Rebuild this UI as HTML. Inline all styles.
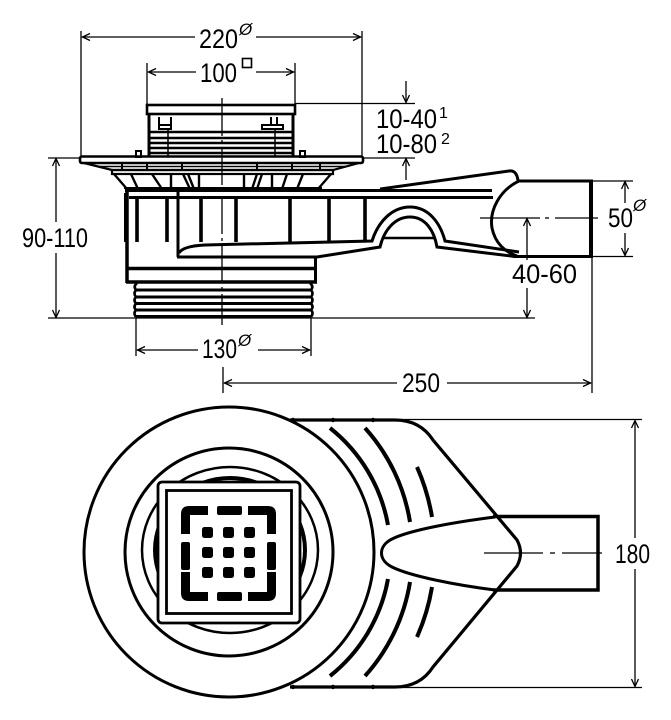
<!DOCTYPE html>
<html>
<head>
<meta charset="utf-8">
<style>
html,body{margin:0;padding:0;background:#fff;}
svg{display:block;}
text{font-family:"Liberation Sans",Arial,sans-serif;fill:#000;}
</style>
</head>
<body>
<svg width="671" height="720" viewBox="0 0 671 720" xmlns="http://www.w3.org/2000/svg">
<rect width="671" height="720" fill="#fff"/>

<!-- ============ DIMENSION LINES (thin) ============ -->
<g stroke="#000" stroke-width="1.3" fill="none">
  <!-- 220 -->
  <line x1="81" y1="31" x2="81" y2="158"/>
  <line x1="362" y1="31" x2="362" y2="158"/>
  <line x1="82" y1="37" x2="195" y2="37"/>
  <line x1="256" y1="37" x2="361" y2="37"/>
  <path d="M90,33.5 L82.5,37 L90,40.5"/>
  <path d="M353,33.5 L360.5,37 L353,40.5"/>
  <!-- 100 -->
  <line x1="147" y1="63" x2="147" y2="105"/>
  <line x1="295" y1="63" x2="295" y2="105"/>
  <line x1="148" y1="72" x2="196" y2="72"/>
  <line x1="256" y1="72" x2="294" y2="72"/>
  <path d="M156,68.5 L148.5,72 L156,75.5"/>
  <path d="M286,68.5 L293.5,72 L286,75.5"/>
  <!-- 10-40 / 10-80 -->
  <line x1="295" y1="103.5" x2="415" y2="103.5"/>
  <line x1="406" y1="81" x2="406" y2="102"/>
  <path d="M402.5,95 L406,102.5 L409.5,95"/>
  <line x1="362" y1="158" x2="415" y2="158"/>
  <line x1="406" y1="159" x2="406" y2="180"/>
  <path d="M402.5,166 L406,158.5 L409.5,166"/>
  <!-- 90-110 -->
  <line x1="48" y1="158" x2="81" y2="158"/>
  <line x1="56" y1="159" x2="56" y2="222"/>
  <line x1="56" y1="253" x2="56" y2="317"/>
  <path d="M52.5,166 L56,158.5 L59.5,166"/>
  <path d="M52.5,310 L56,317.5 L59.5,310"/>
  <!-- floor line -->
  <line x1="48" y1="318" x2="535" y2="318"/>
  <!-- 130 -->
  <line x1="136" y1="318" x2="136" y2="356"/>
  <line x1="311" y1="318" x2="311" y2="356"/>
  <line x1="137" y1="350" x2="198" y2="350"/>
  <line x1="258" y1="350" x2="310" y2="350"/>
  <path d="M145,346.5 L137.5,350 L145,353.5"/>
  <path d="M302,346.5 L309.5,350 L302,353.5"/>
  <!-- 250 -->
  <line x1="223" y1="367" x2="223" y2="393"/>
  <line x1="592" y1="257" x2="592" y2="393"/>
  <line x1="224" y1="383" x2="397" y2="383"/>
  <line x1="447" y1="383" x2="591" y2="383"/>
  <path d="M232,379.5 L224.5,383 L232,386.5"/>
  <path d="M583,379.5 L590.5,383 L583,386.5"/>
  <!-- 50 -->
  <line x1="592" y1="181" x2="633" y2="181"/>
  <line x1="592" y1="256.5" x2="633" y2="256.5"/>
  <line x1="625" y1="182" x2="625" y2="203"/>
  <line x1="625" y1="233" x2="625" y2="255"/>
  <path d="M621.5,189 L625,181.5 L628.5,189"/>
  <path d="M621.5,248 L625,255.5 L628.5,248"/>
  <!-- 40-60 -->
  <line x1="527" y1="219" x2="527" y2="260"/>
  <line x1="527" y1="288" x2="527" y2="317"/>
  <path d="M523.5,226 L527,218.5 L530.5,226"/>
  <path d="M523.5,310 L527,317.5 L530.5,310"/>
  <!-- pipe centerline side -->
  <line x1="480" y1="218" x2="540" y2="218"/>
  <line x1="545" y1="218" x2="549" y2="218"/>
  <line x1="555" y1="218" x2="598" y2="218"/>
  <!-- vertical centerline side -->
  <line x1="222" y1="98" x2="222" y2="325" stroke-dasharray="38 4 3 4"/>
  <!-- 180 -->
  <line x1="397" y1="419.5" x2="642" y2="419.5"/>
  <line x1="397" y1="687.5" x2="642" y2="687.5"/>
  <line x1="635" y1="421" x2="635" y2="538"/>
  <line x1="635" y1="569" x2="635" y2="686"/>
  <path d="M631.5,428 L635,420.5 L638.5,428"/>
  <path d="M631.5,679 L635,686.5 L638.5,679"/>
  <!-- plan centerline -->
  <line x1="484" y1="553" x2="543" y2="553"/>
  <line x1="550" y1="553" x2="555" y2="553"/>
  <line x1="562" y1="553" x2="602" y2="553"/>
</g>

<!-- ============ TEXT ============ -->
<g font-size="27">
  <text x="199" y="48" textLength="39" lengthAdjust="spacingAndGlyphs">220</text>
  <text x="200" y="82" textLength="37" lengthAdjust="spacingAndGlyphs">100</text>
  <text x="376" y="128" textLength="61" lengthAdjust="spacingAndGlyphs">10-40</text>
  <text x="376" y="153" textLength="61" lengthAdjust="spacingAndGlyphs">10-80</text>
  <text x="22" y="247" textLength="66" lengthAdjust="spacingAndGlyphs">90-110</text>
  <text x="202" y="358" textLength="35" lengthAdjust="spacingAndGlyphs">130</text>
  <text x="402" y="392" textLength="38" lengthAdjust="spacingAndGlyphs">250</text>
  <text x="608" y="227" textLength="25" lengthAdjust="spacingAndGlyphs">50</text>
  <text x="512" y="283" textLength="65" lengthAdjust="spacingAndGlyphs">40-60</text>
  <text x="615" y="563" textLength="35" lengthAdjust="spacingAndGlyphs">180</text>
</g>
<g font-size="17">
  <text x="239" y="35" font-style="italic">Ø</text>
  <text x="238" y="346" font-style="italic">Ø</text>
  <text x="633" y="211" font-style="italic">Ø</text>
  <text x="439" y="118" font-size="16">1</text>
  <text x="441" y="144" font-size="16">2</text>
</g>
<rect x="242.5" y="58.5" width="9" height="9" fill="none" stroke="#000" stroke-width="1.6"/>

<!-- ============ SIDE VIEW OBJECT ============ -->
<g stroke="#000" fill="none" stroke-width="2.6">
  <!-- grate top -->
  <rect x="147" y="105" width="148" height="9"/>
  <line x1="149" y1="114" x2="149" y2="157" stroke-width="3"/>
  <line x1="293" y1="114" x2="293" y2="157" stroke-width="3"/>
  <!-- brackets -->
  <path d="M159,117 V129 H171 V117" stroke-width="2"/>
  <line x1="159" y1="125" x2="171" y2="125" stroke-width="2"/>
  <line x1="271" y1="117" x2="271" y2="126" stroke-width="2"/>
  <line x1="277" y1="117" x2="277" y2="126" stroke-width="2"/>
  <rect x="262" y="125" width="21" height="4" stroke-width="2"/>
  <!-- horizontal bars -->
  <line x1="148" y1="132" x2="294" y2="132"/>
  <line x1="148" y1="138" x2="294" y2="138"/>
  <line x1="148" y1="143" x2="294" y2="143"/>
  <line x1="148" y1="148" x2="294" y2="148"/>
  <line x1="148" y1="153" x2="294" y2="153"/>
  <line x1="168" y1="130" x2="168" y2="157" stroke-width="1.5"/>
  <line x1="275" y1="130" x2="275" y2="157" stroke-width="1.5"/>
  <rect x="136" y="151" width="5" height="6" stroke-width="2"/>
  <rect x="300" y="151" width="5" height="6" stroke-width="2"/>
  <!-- flange -->
  <rect x="80" y="156.5" width="283" height="6.5" rx="2"/>
  <path d="M84,163 L112,170 H333 L359,163" stroke-width="2.2"/>
  <line x1="98" y1="166.5" x2="346" y2="166.5" stroke-width="1.4"/>
  <g stroke-width="2">
    <line x1="122" y1="163" x2="122" y2="170"/>
    <line x1="147" y1="163" x2="147" y2="170"/>
    <line x1="182" y1="163" x2="182" y2="170"/>
    <line x1="257" y1="163" x2="257" y2="170"/>
    <line x1="292" y1="163" x2="292" y2="170"/>
    <line x1="320" y1="163" x2="320" y2="170"/>
  </g>
  <rect x="112" y="170" width="221" height="4" stroke-width="2.2"/>
  <!-- ribs under flange -->
  <g stroke-width="2.4">
    <line x1="114" y1="174" x2="127" y2="189"/>
    <line x1="131" y1="174" x2="138" y2="189"/>
    <line x1="152" y1="174" x2="162" y2="189"/>
    <line x1="171" y1="174" x2="171" y2="189"/>
    <line x1="183" y1="174" x2="190" y2="189"/>
    <line x1="188" y1="174" x2="194" y2="189"/>
    <line x1="199" y1="174" x2="199" y2="189"/>
    <line x1="244" y1="174" x2="244" y2="189"/>
    <line x1="257" y1="174" x2="252" y2="189"/>
    <line x1="262" y1="174" x2="257" y2="189"/>
    <line x1="272" y1="174" x2="272" y2="189"/>
    <line x1="287" y1="174" x2="282" y2="189"/>
    <line x1="303" y1="174" x2="297" y2="189"/>
    <line x1="331" y1="174" x2="318" y2="189"/>
  </g>
  <line x1="124" y1="188" x2="322" y2="188" stroke-width="2"/>
  <!-- body -->
  <line x1="127" y1="189" x2="127" y2="283" stroke-width="3.5"/>
  <rect x="124" y="193" width="4" height="49" fill="#000" stroke="none"/>
  <line x1="125" y1="190.5" x2="492" y2="190.5" stroke-width="3"/>
  <line x1="129" y1="197.5" x2="493" y2="197.5" stroke-width="3"/>
  <g stroke-width="3.6">
    <line x1="137" y1="198" x2="137" y2="242"/>
    <line x1="167" y1="198" x2="167" y2="242"/>
    <line x1="201" y1="198" x2="201" y2="242"/>
    <line x1="236" y1="198" x2="236" y2="242"/>
    <line x1="290" y1="198" x2="290" y2="242"/>
    <line x1="329" y1="198" x2="329" y2="242"/>
    <line x1="365" y1="198" x2="365" y2="242"/>
  </g>
  <line x1="178" y1="191" x2="178" y2="257" stroke-width="3"/>
  <!-- channel bottom -->
  <path d="M179,253 Q183,246 205,245 L372,241 C378,222 392,207 410,207 C428,207 440,222 445,241 L519,252" stroke-width="3"/>
  <path d="M177,257 H317 L380,247 C384,230 395,217 410,217 C425,217 434,230 437,247 L515,256.5" stroke-width="3"/>
  <line x1="383" y1="238" x2="434" y2="238" stroke-width="2.6"/>
  <!-- lid slope -->
  <path d="M380,189 L509,171 Q517,170 518,181" stroke-width="3"/>
  <!-- pipe -->
  <path d="M519,181 C500,190 489,210 492,228 C495,243 505,252 517,256" stroke-width="3"/>
  <line x1="517" y1="181" x2="592" y2="181" stroke-width="3"/>
  <line x1="513" y1="256.5" x2="592" y2="256.5" stroke-width="3"/>
  <line x1="591" y1="179.5" x2="591" y2="258" stroke-width="4"/>
  <!-- lower body -->
  <line x1="126" y1="268.5" x2="317" y2="268.5" stroke-width="3.5"/>
  <line x1="315.5" y1="256" x2="315.5" y2="283" stroke-width="3"/>
  <line x1="126" y1="282" x2="317" y2="282" stroke-width="3.5"/>
  <!-- thread -->
  <g stroke-width="3">
    <line x1="136" y1="290" x2="311" y2="290"/>
    <line x1="136" y1="297" x2="311" y2="297"/>
    <line x1="136" y1="303.5" x2="311" y2="303.5"/>
    <line x1="136" y1="310" x2="311" y2="310"/>
    <line x1="136" y1="316.5" x2="311" y2="316.5"/>
  </g>
  <path d="M137,283 Q133,286.5 136,290 Q133,293.5 136,297 Q133,300 136,303.5 Q133,307 136,310 Q133,313 136,317" stroke-width="2.6"/>
  <path d="M310,283 Q314,286.5 311,290 Q314,293.5 311,297 Q314,300 311,303.5 Q314,307 311,310 Q314,313 311,317" stroke-width="2.6"/>
</g>

<!-- ============ PLAN VIEW ============ -->
<g stroke="#000" fill="none">
  <!-- outlet outline -->
  <path d="M290,420 H395 Q420,420 433,440 L517,540 Q524,553 517,566 L433,667 Q420,687 395,687 H290" stroke-width="3.2"/>
  <!-- pipe -->
  <path d="M493,516.5 H598 V590 H493" stroke-width="3.5"/>
  <!-- teardrop -->
  <path d="M495,517 C455,522 410,530 392,539 C378,546 378,560 392,567 C410,576 455,585 495,590" stroke-width="3"/>
  <!-- ribs -->
  <g stroke-width="4">
    <path d="M330,428 A160,160 0 0 1 388,525"/>
    <path d="M330,676 A160,160 0 0 0 388,579"/>
    <path d="M365,428 A184,184 0 0 1 410,522"/>
    <path d="M365,676 A184,184 0 0 0 410,582"/>
    <path d="M417,467 A206,206 0 0 1 432,517"/>
    <path d="M417,637 A206,206 0 0 0 432,587"/>
  </g>
  <!-- circles -->
  <circle cx="229" cy="552" r="145" stroke-width="3"/>
  <circle cx="229" cy="552" r="104" stroke-width="3"/>
  <ellipse cx="230" cy="550" rx="88" ry="83" stroke-width="2.5"/>
  <ellipse cx="230" cy="550" rx="75" ry="72" stroke-width="4"/>
  <!-- grate square -->
  <rect x="158" y="482" width="142" height="141" rx="4" fill="#fff" stroke-width="2.8"/>
  <rect x="166.5" y="490.5" width="125" height="123" stroke-width="2.8"/>
</g>
<g fill="#000">
  <circle cx="293" cy="420" r="2.2"/>
  <circle cx="333" cy="420" r="2.2"/>
  <circle cx="373" cy="420" r="2.2"/>
  <circle cx="293" cy="687" r="2.2"/>
  <circle cx="333" cy="687" r="2.2"/>
  <circle cx="373" cy="687" r="2.2"/>
</g>
<!-- grate pattern -->
<g fill="#000">
  <path d="M181,534 V514 Q181,506 189,506 H208 V515 H190 V534 Z"/>
  <path d="M276,534 V514 Q276,506 268,506 H248 V515 H267 V534 Z"/>
  <path d="M181,572 V593 Q181,601 189,601 H208 V592 H190 V572 Z"/>
  <path d="M276,572 V593 Q276,601 268,601 H248 V592 H267 V572 Z"/>
  <rect x="217" y="506" width="25" height="9" rx="2"/>
  <rect x="217" y="592" width="25" height="9" rx="2"/>
  <rect x="181" y="542" width="9" height="28" rx="2"/>
  <rect x="267" y="542" width="9" height="28" rx="2"/>
  <rect x="202" y="527" width="11" height="11" rx="2.5"/>
  <rect x="223" y="527" width="11" height="11" rx="2.5"/>
  <rect x="244" y="527" width="11" height="11" rx="2.5"/>
  <rect x="202" y="547" width="11" height="11" rx="2.5"/>
  <rect x="223" y="547" width="11" height="11" rx="2.5"/>
  <rect x="244" y="547" width="11" height="11" rx="2.5"/>
  <rect x="202" y="567" width="11" height="11" rx="2.5"/>
  <rect x="223" y="567" width="11" height="11" rx="2.5"/>
  <rect x="244" y="567" width="11" height="11" rx="2.5"/>
</g>
</svg>
</body>
</html>
